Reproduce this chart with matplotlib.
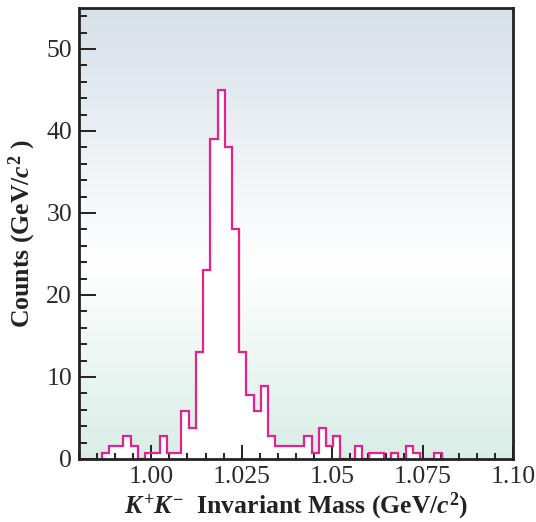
import numpy as np
import matplotlib
matplotlib.use("Agg")
from matplotlib import pyplot as plt
from matplotlib.colors import LinearSegmentedColormap
from matplotlib.ticker import MultipleLocator, FixedLocator, FixedFormatter

# histogram of K+K- invariant mass, bins of 0.002 GeV
bin_start = 0.9863
bin_width = 0.002
counts = [0.7, 1.6, 1.6, 2.8, 1.6, 0, 0.7, 0.7, 2.8, 0.7,
          0.7, 5.8, 3.8, 13, 23, 39, 45, 38, 28, 13,
          7.8, 5.8, 8.9, 2.8, 1.6, 1.6, 1.6, 1.6, 2.8, 0.7,
          3.8, 1.6, 2.8, 0, 0, 1.6, 0, 0.7, 0.7, 0,
          0.7, 0, 1.6, 0.7, 0, 0, 0.7]

x_ticks = [1.00, 1.025, 1.05, 1.075, 1.10]
x_tick_labels = ['1.00', '1.025', '1.05', '1.075', '1.10']
y_ticks = [0, 10, 20, 30, 40, 50]

edges = bin_start + bin_width * np.arange(len(counts) + 1)

plt.rcParams['font.family'] = ['Liberation Serif', 'DejaVu Serif']
plt.rcParams['mathtext.fontset'] = 'custom'
plt.rcParams['mathtext.rm'] = 'Liberation Serif:bold'
plt.rcParams['mathtext.it'] = 'Liberation Serif:italic:bold'
plt.rcParams['mathtext.bf'] = 'Liberation Serif:bold'

fig = plt.figure(figsize=(5.36, 5.22), dpi=100)
ax = fig.add_axes([0.1474, 0.1207, 0.8096, 0.864])

# background gradient: blue-grey top, white middle, pale green bottom
cmap = LinearSegmentedColormap.from_list(
    'bg', [(0.0, (0.85, 0.93, 0.90)), (0.43, (1, 1, 1)), (1.0, (0.84, 0.88, 0.91))])
grad = np.linspace(0, 1, 256).reshape(-1, 1)
ax.imshow(grad, extent=[0, 1, 0, 1], transform=ax.transAxes, aspect='auto',
          cmap=cmap, origin='lower', zorder=0)

ax.stairs(counts, edges, fill=True, color='white', zorder=1)
ax.stairs(counts, edges, color='#e5218c', linewidth=1.6, zorder=2)

ax.set_xlim(0.98, 1.10)
ax.set_ylim(0, 55)

ax.xaxis.set_major_locator(FixedLocator(x_ticks))
ax.xaxis.set_major_formatter(FixedFormatter(x_tick_labels))
ax.xaxis.set_minor_locator(MultipleLocator(0.005))
ax.yaxis.set_major_locator(FixedLocator(y_ticks))
ax.yaxis.set_minor_locator(MultipleLocator(2))

ax.tick_params(axis='both', which='both', direction='in', colors='#222222',
               labelcolor='#2a2a2a', labelsize=18.5, width=1.4)
ax.tick_params(axis='y', which='major', length=12, pad=5)
ax.tick_params(axis='y', which='minor', length=6)
ax.tick_params(axis='x', which='major', length=10, pad=5)
ax.tick_params(axis='x', which='minor', length=4.5)

for s in ax.spines.values():
    s.set_linewidth(2)
    s.set_color('#222222')
    s.set_zorder(5)

ax.set_ylabel('Counts (GeV/$c^{2}$ )', fontsize=18.5, fontweight='bold',
              color='#222222', labelpad=6)
ax.set_xlabel(r'$K^{+}K^{-}$  Invariant Mass (GeV/$c^{2}$)', fontsize=18.5,
              fontweight='bold', color='#222222', labelpad=2)

plt.savefig('out.png', dpi=100)
